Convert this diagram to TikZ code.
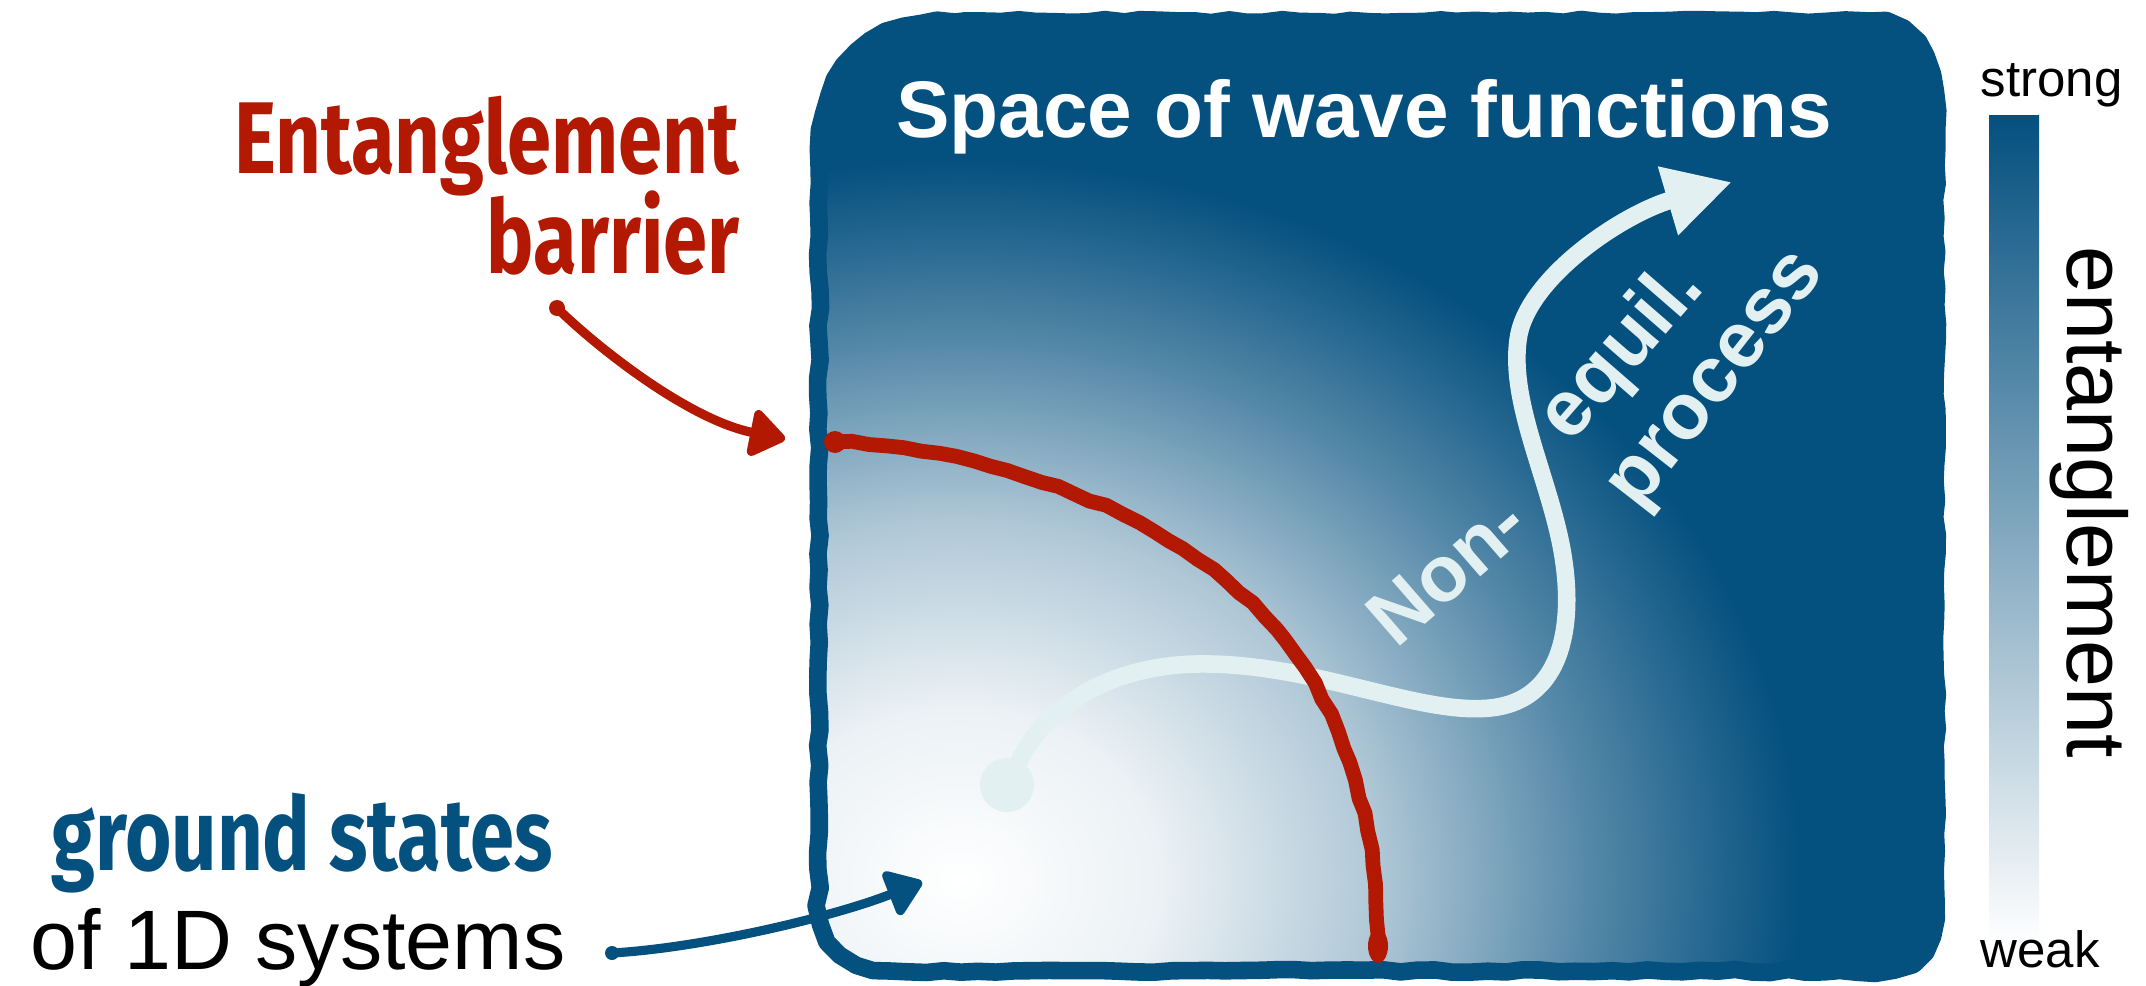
\documentclass[tikz,border=0pt]{standalone}
\usepackage{fontspec}
\usepackage{graphicx}
\setmainfont{Liberation Sans}
\newfontfamily\handfont{Fira Sans}
\usetikzlibrary{arrows.meta,decorations.pathmorphing}

\definecolor{wfblue}{RGB}{4,80,127}
\definecolor{barred}{RGB}{178,24,2}
\definecolor{proclight}{RGB}{226,240,242}

\newcommand{\narrow}[1]{\scalebox{0.78}[1]{#1}}
\newcommand{\wfboxpath}{(819,165) .. controls (819,55) and (870,21) .. (965,21)
  -- (1870,21) .. controls (1915,21) and (1936,60) .. (1936,130)
  -- (1936,900) .. controls (1936,945) and (1915,971) .. (1875,971)
  -- (890,971) .. controls (850,968) and (819,945) .. (819,905) -- cycle}

\pgfdeclareradialshading{wavefn}{\pgfpoint{0bp}{0bp}}{color(0bp)=(white);
  color(6bp)=(wfblue!8); color(12.5bp)=(wfblue!32); color(18.75bp)=(wfblue!68);
  color(22bp)=(wfblue!85); color(25bp)=(wfblue); color(50bp)=(wfblue)}

\begin{document}
\begin{tikzpicture}[x=0.01cm, y=-0.01cm, line cap=round, line join=round,
    pencil/.style={decorate, decoration={random steps, segment length=5pt, amplitude=0.45pt}},
    plaintext/.style={inner sep=0pt, font=\fontsize{24}{28}\selectfont},
    scaletext/.style={inner sep=0pt, font=\fontsize{14.5}{17}\selectfont},
    titletext/.style={inner sep=0pt, text=white, font=\bfseries\fontsize{22.8}{27}\selectfont},
    proctext/.style={inner sep=0pt, text=proclight, font=\bfseries\fontsize{22.5}{27}\selectfont},
    handtext/.style={inner sep=0pt, font=\handfont\bfseries\fontsize{29}{34}\selectfont},
    procline/.style={proclight, line width=5pt, -{Triangle[length=19pt, width=19pt]}},
    pointer/.style={line width=2.6pt, -{Triangle[length=11pt, width=15pt, round]}}]
  \useasboundingbox[fill=white] (0,0) rectangle (2146,985);
  \pgfmathsetseed{3}

  % space of wave functions
  \fill[wfblue] \wfboxpath;
  \begin{scope}
    \clip \wfboxpath;
    \shade[shading=wavefn] (960,880) ellipse [x radius=840, y radius=720];
  \end{scope}
  \draw[wfblue, line width=5pt, pencil] \wfboxpath;
  \node[titletext, anchor=base] (title) at (1364,137) {Space of wave functions};

  % entanglement scale
  \shade[top color=wfblue, bottom color=white] (1989,116) rectangle (2039,944);
  \node[scaletext, anchor=base west] (strong) at (1980,97) {strong};
  \node[scaletext, anchor=base west] (weak) at (1980,967) {weak};
  \node[plaintext, rotate=-90, anchor=base] (entlabel) at (2067,502) {entanglement};

  % non-equilibrium process
  \node[circle, fill=proclight, minimum size=15.4pt, inner sep=0pt] (start) at (1007,785) {};
  \coordinate (goal) at (1732,182);
  \draw[procline] (start) .. controls (1050,700) and (1120,662) .. (1210,664)
    .. controls (1320,666) and (1420,715) .. (1490,708)
    .. controls (1570,700) and (1575,610) .. (1560,540)
    .. controls (1545,470) and (1510,400) .. (1518,340)
    .. controls (1525,280) and (1620,215) .. (goal);
  \node[proctext, rotate=41] (non) at (1447,570) {Non-};
  \node[proctext, rotate=49] (equil) at (1623,353) {equil.};
  \node[proctext, rotate=52] (process) at (1722,384) {process};

  % entanglement barrier
  \coordinate (bartop) at (835,442);
  \coordinate (barbot) at (1378,955);
  \draw[barred, line width=4.2pt, pencil] (bartop) .. controls (1000,448) and (1190,520) .. (1285,640)
    .. controls (1345,716) and (1378,820) .. (barbot);
  \fill[barred] (bartop) circle [radius=11];
  \fill[barred] (1378,946) ellipse [x radius=10, y radius=17];

  \node[handtext, text=barred, anchor=base east] (barlbl) at (740,174) {\narrow{Entanglement}};
  \node[handtext, text=barred, anchor=base east] (barlbl2) at (740,273) {\narrow{barrier}};
  \coordinate (barfrom) at (557,308);
  \coordinate (barto) at (785,439);
  \fill[barred] (barfrom) circle [radius=8];
  \draw[pointer, barred] (barfrom) .. controls (600,350) and (690,420) .. (barto);

  % ground states
  \node[handtext, text=wfblue, anchor=base west] (gslbl) at (51,870) {\narrow{ground states}};
  \node[plaintext, anchor=base west] (syslbl) at (30,969) {of 1D systems};
  \coordinate (gsfrom) at (612,953);
  \coordinate (gsto) at (922,882);
  \fill[wfblue] (gsfrom) circle [radius=7];
  \draw[pointer, wfblue] (gsfrom) .. controls (700,948) and (830,918) .. (gsto);
\end{tikzpicture}
\end{document}
